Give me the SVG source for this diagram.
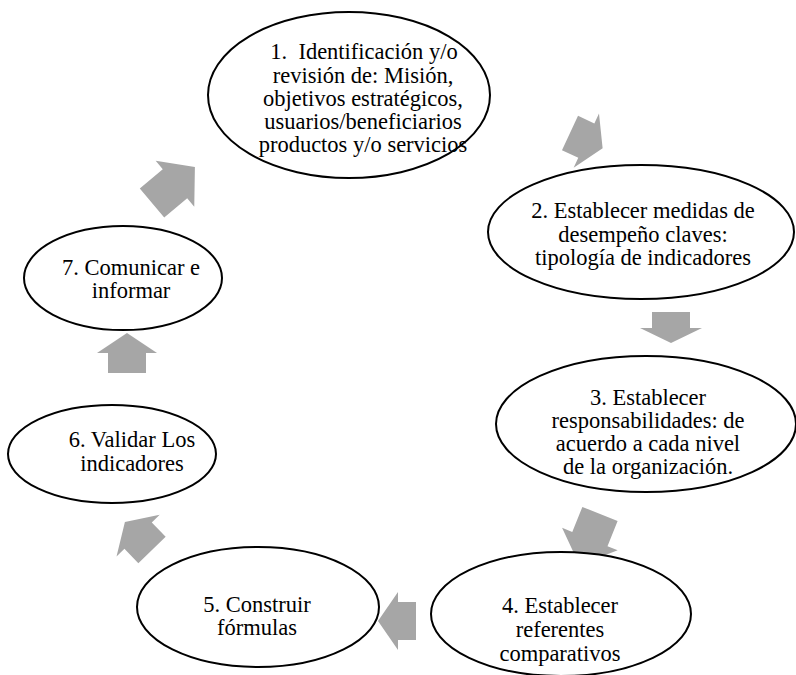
<svg xmlns="http://www.w3.org/2000/svg" width="796" height="675" viewBox="0 0 796 675">
<style>
.node ellipse{fill:#fff;stroke:#000;stroke-width:2}
.node text{font-family:"Liberation Serif","Times New Roman",serif;font-size:22.5px;fill:#000;text-anchor:middle}
.pre{white-space:pre}
.arrow{fill:#a6a6a6;stroke:none}
</style>
<rect width="796" height="675" fill="#fff"/>
<g id="connectors">
<polygon class="arrow" points="0,-19 18,-19 18,-30 36,0 18,30 18,19 0,19" transform="translate(570,133) rotate(25)"/>
<polygon class="arrow" points="0,-19 16,-19 16,-31 31,0 16,31 16,19 0,19" transform="translate(671,312) rotate(90)"/>
<polygon class="arrow" points="0,-19 27,-19 27,-30 55,0 27,30 27,19 0,19" transform="translate(600,514) rotate(112)"/>
<polygon class="arrow" points="0,-19 18,-19 18,-29 38,0 18,29 18,19 0,19" transform="translate(416,621) rotate(180)"/>
<polygon class="arrow" points="0,-19 20,-19 20,-30 39,0 20,30 20,19 0,19" transform="translate(152,550) rotate(-134)"/>
<polygon class="arrow" points="0,-19 20,-19 20,-30 40,0 20,30 20,19 0,19" transform="translate(127,373) rotate(-90)"/>
<polygon class="arrow" points="0,-19 30,-19 30,-30 56,0 30,30 30,19 0,19" transform="translate(152,203) rotate(-40)"/>
</g>
<g id="node1" class="node">
<ellipse cx="349" cy="95" rx="141" ry="83"/>
<text class="pre" x="364" y="59">1.  Identificación y/o</text>
<text x="363" y="82.5">revisión de: Misión,</text>
<text x="363" y="106">objetivos estratégicos,</text>
<text x="363" y="129">usuarios/beneficiarios</text>
<text x="363" y="152">productos y/o servicios</text>
</g>
<g id="node2" class="node">
<ellipse cx="641" cy="232" rx="153" ry="67"/>
<text x="643" y="218">2. Establecer medidas de</text>
<text x="643" y="241.5">desempeño claves:</text>
<text x="643" y="265">tipología de indicadores</text>
</g>
<g id="node3" class="node">
<ellipse cx="646" cy="424" rx="150" ry="68"/>
<text x="648" y="405">3. Establecer</text>
<text x="648" y="428">responsabilidades: de</text>
<text x="648" y="451">acuerdo a cada nivel</text>
<text x="648" y="474">de la organización.</text>
</g>
<g id="node4" class="node">
<ellipse cx="561" cy="614" rx="130" ry="62"/>
<text x="560" y="613">4. Establecer</text>
<text x="560" y="637">referentes</text>
<text x="560" y="661">comparativos</text>
</g>
<g id="node5" class="node">
<ellipse cx="258" cy="607" rx="121" ry="60"/>
<text x="257" y="612">5. Construir</text>
<text x="257" y="635">fórmulas</text>
</g>
<g id="node6" class="node">
<ellipse cx="112" cy="454" rx="104" ry="49"/>
<text x="132" y="447">6. Validar Los</text>
<text x="132" y="471">indicadores</text>
</g>
<g id="node7" class="node">
<ellipse cx="123" cy="278" rx="99" ry="52"/>
<text x="131" y="275">7. Comunicar e</text>
<text x="131" y="298">informar</text>
</g>
</svg>
